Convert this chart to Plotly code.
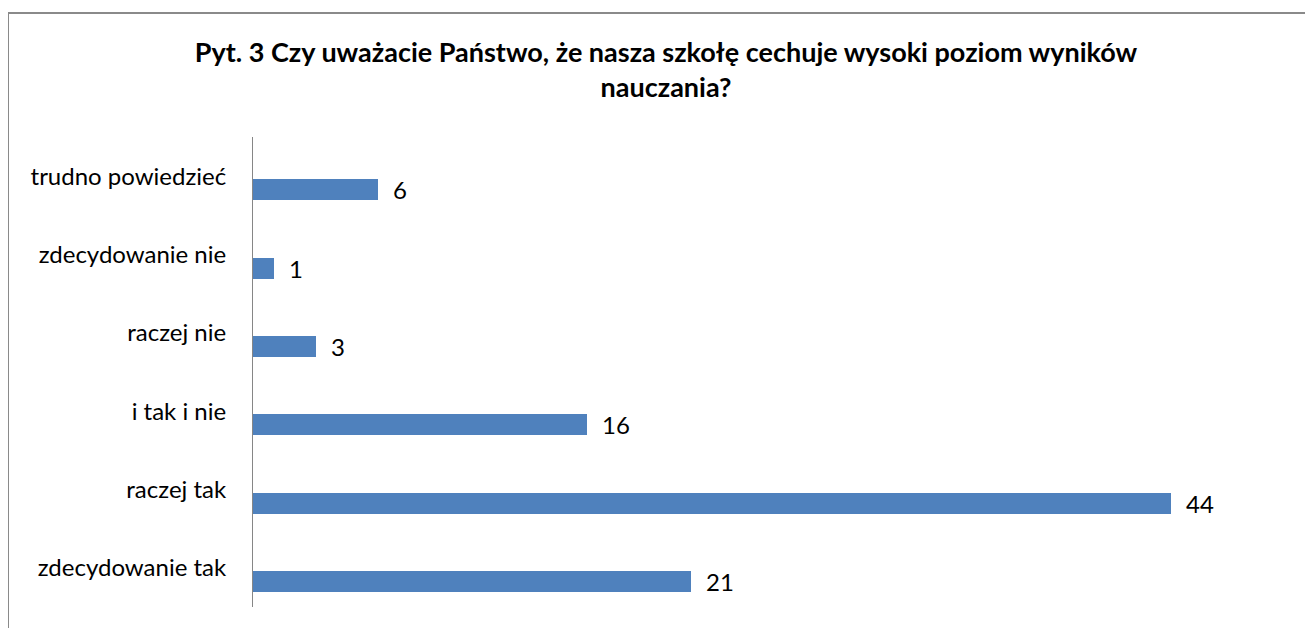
import plotly.graph_objects as go

# categories listed bottom-to-top
categories = ["zdecydowanie tak", "raczej tak", "i tak i nie", "raczej nie", "zdecydowanie nie", "trudno powiedzieć"]
values = [21, 44, 16, 3, 1, 6]
title_text = "Pyt. 3 Czy uważacie Państwo, że nasza szkołę cechuje wysoki poziom wyników<br>nauczania?"

FONT = "Lato"
# page body has 8px margin; figure coordinates are page coordinates minus 8
W, H = 1305, 620
ML, MR, MT, MB = 245, 17, 129, 21
PW, PH = W - ML - MR, H - MT - MB

pos = list(range(len(categories)))
bar_pos = [p - 0.175 for p in pos]

fig = go.Figure()
fig.add_trace(go.Bar(
    x=values, y=bar_pos, orientation="h", width=0.27,
    marker=dict(color="#4F81BD", line=dict(width=0)),
    hoverinfo="skip", showlegend=False,
))

for v, b in zip(values, bar_pos):
    fig.add_annotation(x=v, y=b, text=str(v), showarrow=False, xanchor="left",
                       yanchor="middle", xshift=13, font=dict(family=FONT, size=24, color="#000000"))

def px_x(p):
    return (p - ML) / PW

def px_y(p):
    return (H - MB - p) / PH

fig.add_shape(type="rect", xref="paper", yref="paper",
              x0=px_x(0), x1=px_x(1330), y0=px_y(5), y1=px_y(650),
              line=dict(color="#8a8a8a", width=2), fillcolor="rgba(0,0,0,0)", layer="below")

fig.update_layout(
    width=W, height=H,
    margin=dict(l=ML, r=MR, t=MT, b=MB),
    paper_bgcolor="white", plot_bgcolor="white",
    title=dict(text=title_text, x=658 / W, xref="container", xanchor="center", y=1 - 54 / H, yanchor="middle",
               font=dict(family=FONT, size=27, color="#000000", weight="bold")),
    xaxis=dict(range=[0, 50], showgrid=False, zeroline=False, showticklabels=False, ticks="",
               showline=False, fixedrange=True),
    yaxis=dict(range=[-0.5, 5.5], tickmode="array", tickvals=pos, ticktext=categories,
               showgrid=False, zeroline=False, showline=True, linecolor="#868686", linewidth=1,
               ticks="", ticklabelstandoff=21,
               tickfont=dict(family=FONT, size=24, color="#000000")),
    bargap=0,
)

fig.write_html("out.html")
